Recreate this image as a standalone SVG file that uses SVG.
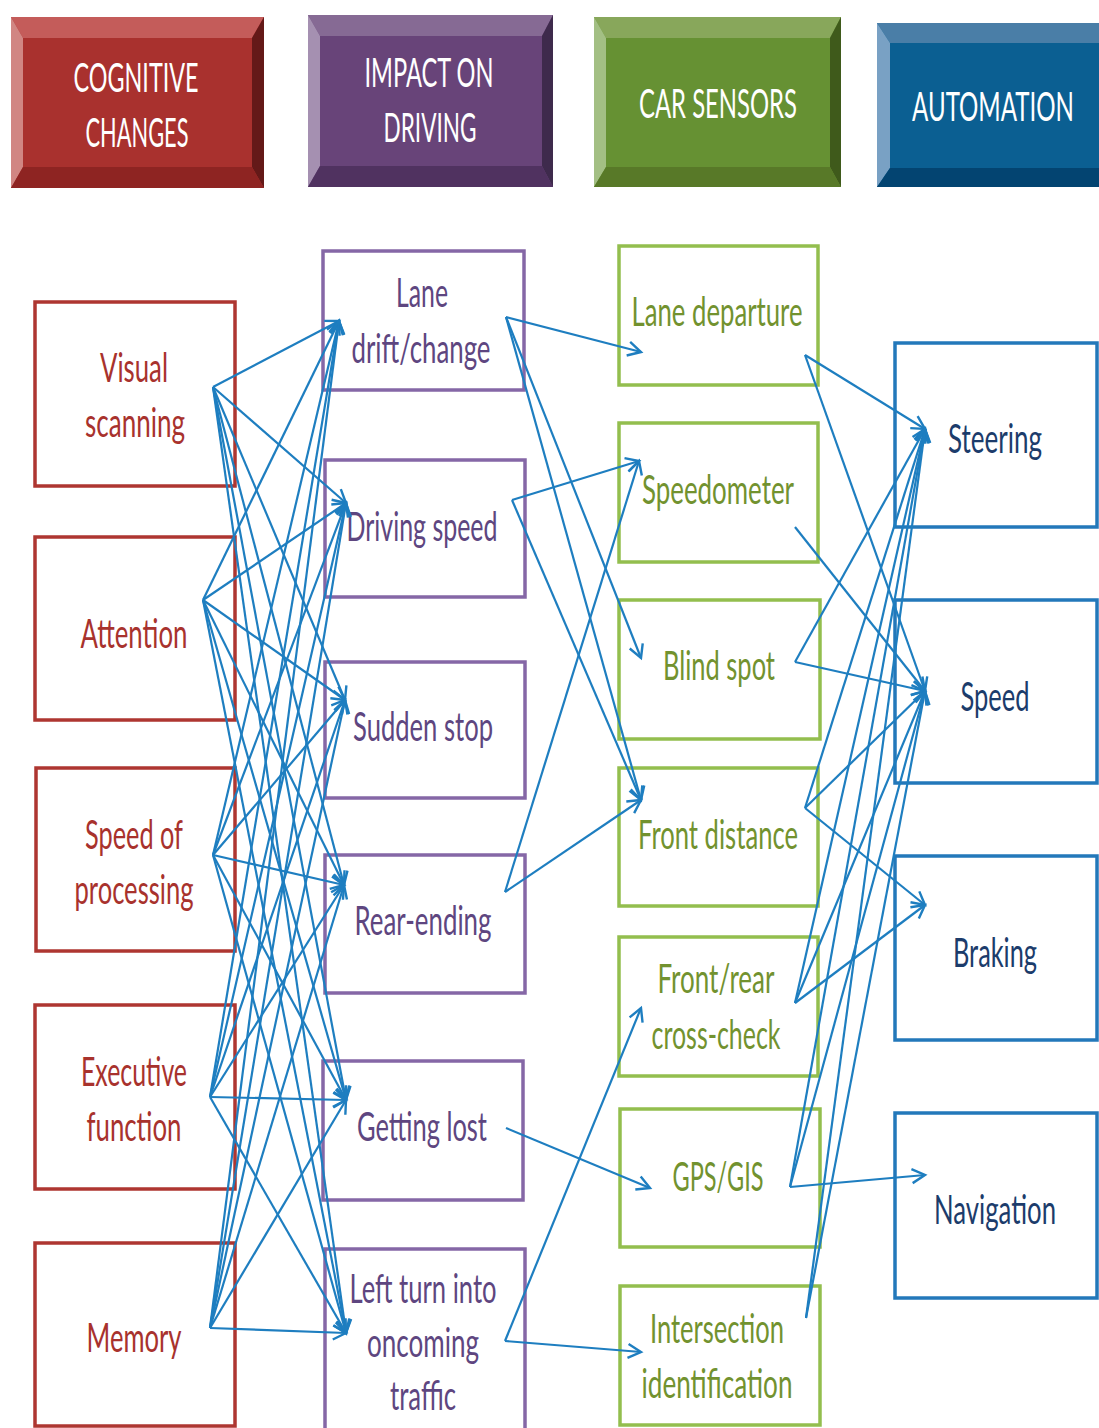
<svg xmlns="http://www.w3.org/2000/svg" width="1099" height="1428" viewBox="0 0 1099 1428">
<defs>
<marker id="arr" markerUnits="userSpaceOnUse" markerWidth="18" markerHeight="18" refX="14" refY="7" orient="auto" overflow="visible">
<path d="M1,0 L14,7 L1,14" fill="none" stroke="#1E7EC0" stroke-width="2.4" stroke-linejoin="miter"/>
</marker>
<style>
text{font-family:Lato,"Liberation Sans",Arial,sans-serif;font-size:40px;text-anchor:middle}
.hd{fill:#ffffff}
.cog rect{fill:none;stroke:#AE3631;stroke-width:3.5}
.cog text{fill:#A8322D}
.imp rect{fill:none;stroke:#8567A6;stroke-width:3.5}
.imp text{fill:#5E4680}
.sen rect{fill:none;stroke:#93BE4E;stroke-width:3.5}
.sen text{fill:#72922F}
.aut rect{fill:none;stroke:#2378BA;stroke-width:3.5}
.aut text{fill:#1C3C6B}
#connectors line{stroke:#1E7EC0;stroke-width:2.2;fill:none;marker-end:url(#arr)}
</style>
</defs>
<rect width="1099" height="1428" fill="#ffffff"/>

<g id="hdr-cognitive">
<rect x="11" y="17" width="253" height="171" fill="#A9312E"/>
<polygon points="11,17 264,17 252,38 23,38" fill="#C45C5A"/>
<polygon points="11,17 23,38 23,167 11,188" fill="#D18683"/>
<polygon points="264,17 264,188 252,167 252,38" fill="#641918"/>
<polygon points="11,188 264,188 252,167 23,167" fill="#8E2422"/>
<text class="hd" x="136" y="92" textLength="125" lengthAdjust="spacingAndGlyphs">COGNITIVE</text>
<text class="hd" x="137" y="147" textLength="103" lengthAdjust="spacingAndGlyphs">CHANGES</text>
</g>
<g id="hdr-impact">
<rect x="308" y="15" width="245" height="172" fill="#684479"/>
<polygon points="308,15 553,15 542,36 320,36" fill="#866A94"/>
<polygon points="308,15 320,36 320,166 308,187" fill="#A590B1"/>
<polygon points="553,15 553,187 542,166 542,36" fill="#3E2A4C"/>
<polygon points="308,187 553,187 542,166 320,166" fill="#503260"/>
<text class="hd" x="429" y="87" textLength="129" lengthAdjust="spacingAndGlyphs">IMPACT ON</text>
<text class="hd" x="430" y="142" textLength="93" lengthAdjust="spacingAndGlyphs">DRIVING</text>
</g>
<g id="hdr-sensors">
<rect x="594" y="17" width="247" height="170" fill="#669133"/>
<polygon points="594,17 841,17 830,38 606,38" fill="#88A75B"/>
<polygon points="594,17 606,38 606,167 594,187" fill="#A3BF84"/>
<polygon points="841,17 841,187 830,167 830,38" fill="#3F5A1B"/>
<polygon points="594,187 841,187 830,167 606,167" fill="#587928"/>
<text class="hd" x="718" y="118" textLength="158" lengthAdjust="spacingAndGlyphs">CAR SENSORS</text>
</g>
<g id="hdr-automation">
<rect x="877" y="23" width="222" height="164" fill="#0B5F92"/>
<polygon points="877,23 1099,23 1099,43 890,43" fill="#4A7EA7"/>
<polygon points="877,23 890,43 890,168 877,187" fill="#79A1C4"/>
<polygon points="877,187 1099,187 1099,168 890,168" fill="#034471"/>
<text class="hd" x="993" y="121" textLength="162" lengthAdjust="spacingAndGlyphs">AUTOMATION</text>
</g>

<g id="n-visual" class="cog"><rect x="35" y="302" width="200" height="184"/><text x="134" y="382" textLength="68" lengthAdjust="spacingAndGlyphs">Visual</text><text x="135" y="437" textLength="100" lengthAdjust="spacingAndGlyphs">scanning</text></g>
<g id="n-attention" class="cog"><rect x="35" y="537" width="200" height="183"/><text x="134" y="648" textLength="107" lengthAdjust="spacingAndGlyphs">Attention</text></g>
<g id="n-speedproc" class="cog"><rect x="36" y="768" width="199" height="183"/><text x="134" y="849" textLength="98" lengthAdjust="spacingAndGlyphs">Speed of</text><text x="134" y="904" textLength="119" lengthAdjust="spacingAndGlyphs">processing</text></g>
<g id="n-executive" class="cog"><rect x="35" y="1005" width="200" height="184"/><text x="134" y="1086" textLength="106" lengthAdjust="spacingAndGlyphs">Executive</text><text x="134" y="1141" textLength="95" lengthAdjust="spacingAndGlyphs">function</text></g>
<g id="n-memory" class="cog"><rect x="35" y="1243" width="200" height="183"/><text x="134" y="1352" textLength="95" lengthAdjust="spacingAndGlyphs">Memory</text></g>

<g id="n-lane" class="imp"><rect x="323" y="251" width="201" height="139"/><text x="422" y="307" textLength="52" lengthAdjust="spacingAndGlyphs">Lane</text><text x="421" y="363" textLength="139" lengthAdjust="spacingAndGlyphs">drift/change</text></g>
<g id="n-drivespeed" class="imp"><rect x="325" y="460" width="200" height="137"/><text x="422" y="541" textLength="151" lengthAdjust="spacingAndGlyphs">Driving speed</text></g>
<g id="n-sudden" class="imp"><rect x="325" y="662" width="200" height="136"/><text x="423" y="741" textLength="140" lengthAdjust="spacingAndGlyphs">Sudden stop</text></g>
<g id="n-rear" class="imp"><rect x="325" y="855" width="200" height="138"/><text x="423" y="935" textLength="137" lengthAdjust="spacingAndGlyphs">Rear-ending</text></g>
<g id="n-lost" class="imp"><rect x="323" y="1061" width="200" height="139"/><text x="422" y="1141" textLength="130" lengthAdjust="spacingAndGlyphs">Getting lost</text></g>
<g id="n-leftturn" class="imp"><rect x="325" y="1249" width="200" height="182"/><text x="423" y="1303" textLength="147" lengthAdjust="spacingAndGlyphs">Left turn into</text><text x="423" y="1357" textLength="112" lengthAdjust="spacingAndGlyphs">oncoming</text><text x="423" y="1410" textLength="66" lengthAdjust="spacingAndGlyphs">traffic</text></g>

<g id="n-lanedep" class="sen"><rect x="619" y="246" width="199" height="139"/><text x="717" y="326" textLength="171" lengthAdjust="spacingAndGlyphs">Lane departure</text></g>
<g id="n-speedo" class="sen"><rect x="619" y="423" width="199" height="139"/><text x="718" y="504" textLength="152" lengthAdjust="spacingAndGlyphs">Speedometer</text></g>
<g id="n-blind" class="sen"><rect x="619" y="600" width="201" height="139"/><text x="719" y="680" textLength="112" lengthAdjust="spacingAndGlyphs">Blind spot</text></g>
<g id="n-front" class="sen"><rect x="619" y="768" width="199" height="138"/><text x="718" y="849" textLength="160" lengthAdjust="spacingAndGlyphs">Front distance</text></g>
<g id="n-frontrear" class="sen"><rect x="619" y="937" width="199" height="139"/><text x="716" y="993" textLength="117" lengthAdjust="spacingAndGlyphs">Front/rear</text><text x="716" y="1049" textLength="129" lengthAdjust="spacingAndGlyphs">cross-check</text></g>
<g id="n-gps" class="sen"><rect x="620" y="1109" width="200" height="138"/><text x="718" y="1191" textLength="91" lengthAdjust="spacingAndGlyphs">GPS/GIS</text></g>
<g id="n-intersection" class="sen"><rect x="620" y="1286" width="200" height="139"/><text x="717" y="1343" textLength="134" lengthAdjust="spacingAndGlyphs">Intersection</text><text x="717" y="1398" textLength="151" lengthAdjust="spacingAndGlyphs">identification</text></g>

<g id="n-steering" class="aut"><rect x="895" y="343" width="202" height="184"/><text x="995" y="453" textLength="94" lengthAdjust="spacingAndGlyphs">Steering</text></g>
<g id="n-speed" class="aut"><rect x="895" y="600" width="202" height="183"/><text x="995" y="711" textLength="69" lengthAdjust="spacingAndGlyphs">Speed</text></g>
<g id="n-braking" class="aut"><rect x="895" y="856" width="202" height="184"/><text x="995" y="967" textLength="84" lengthAdjust="spacingAndGlyphs">Braking</text></g>
<g id="n-navigation" class="aut"><rect x="895" y="1113" width="202" height="185"/><text x="995" y="1224" textLength="122" lengthAdjust="spacingAndGlyphs">Navigation</text></g>

<g id="connectors">
<line x1="213" y1="387" x2="339" y2="321"/>
<line x1="213" y1="387" x2="346" y2="503"/>
<line x1="213" y1="387" x2="345" y2="700"/>
<line x1="213" y1="387" x2="344" y2="885"/>
<line x1="213" y1="387" x2="346" y2="1100"/>
<line x1="213" y1="387" x2="346" y2="1333"/>
<line x1="203" y1="600" x2="339" y2="321"/>
<line x1="203" y1="600" x2="346" y2="503"/>
<line x1="203" y1="600" x2="345" y2="700"/>
<line x1="203" y1="600" x2="344" y2="885"/>
<line x1="203" y1="600" x2="346" y2="1100"/>
<line x1="203" y1="600" x2="346" y2="1333"/>
<line x1="213" y1="855" x2="339" y2="321"/>
<line x1="213" y1="855" x2="346" y2="503"/>
<line x1="213" y1="855" x2="345" y2="700"/>
<line x1="213" y1="855" x2="344" y2="885"/>
<line x1="213" y1="855" x2="346" y2="1100"/>
<line x1="213" y1="855" x2="346" y2="1333"/>
<line x1="210" y1="1097" x2="339" y2="321"/>
<line x1="210" y1="1097" x2="346" y2="503"/>
<line x1="210" y1="1097" x2="345" y2="700"/>
<line x1="210" y1="1097" x2="344" y2="885"/>
<line x1="210" y1="1097" x2="346" y2="1100"/>
<line x1="210" y1="1097" x2="346" y2="1333"/>
<line x1="210" y1="1328" x2="339" y2="321"/>
<line x1="210" y1="1328" x2="346" y2="503"/>
<line x1="210" y1="1328" x2="345" y2="700"/>
<line x1="210" y1="1328" x2="344" y2="885"/>
<line x1="210" y1="1328" x2="346" y2="1100"/>
<line x1="210" y1="1328" x2="346" y2="1333"/>

<line x1="506" y1="317" x2="641" y2="352"/>
<line x1="506" y1="317" x2="641" y2="658"/>
<line x1="506" y1="317" x2="641" y2="800"/>
<line x1="512" y1="500" x2="639" y2="461"/>
<line x1="512" y1="500" x2="641" y2="800"/>
<line x1="505" y1="892" x2="639" y2="461"/>
<line x1="505" y1="892" x2="641" y2="800"/>
<line x1="506" y1="1128" x2="650" y2="1188"/>
<line x1="505" y1="1341" x2="641" y2="1008"/>
<line x1="505" y1="1341" x2="641" y2="1352"/>

<line x1="805" y1="355" x2="925" y2="429"/>
<line x1="805" y1="355" x2="925" y2="691"/>
<line x1="795" y1="527" x2="925" y2="691"/>
<line x1="795" y1="662" x2="925" y2="429"/>
<line x1="795" y1="662" x2="925" y2="691"/>
<line x1="805" y1="808" x2="925" y2="429"/>
<line x1="805" y1="808" x2="925" y2="691"/>
<line x1="805" y1="808" x2="925" y2="905"/>
<line x1="795" y1="1003" x2="925" y2="429"/>
<line x1="795" y1="1003" x2="925" y2="691"/>
<line x1="795" y1="1003" x2="925" y2="905"/>
<line x1="790" y1="1187" x2="925" y2="429"/>
<line x1="790" y1="1187" x2="925" y2="691"/>
<line x1="790" y1="1187" x2="925" y2="1175"/>
<line x1="806" y1="1318" x2="925" y2="429"/>
<line x1="806" y1="1318" x2="925" y2="691"/>
</g>
</svg>
